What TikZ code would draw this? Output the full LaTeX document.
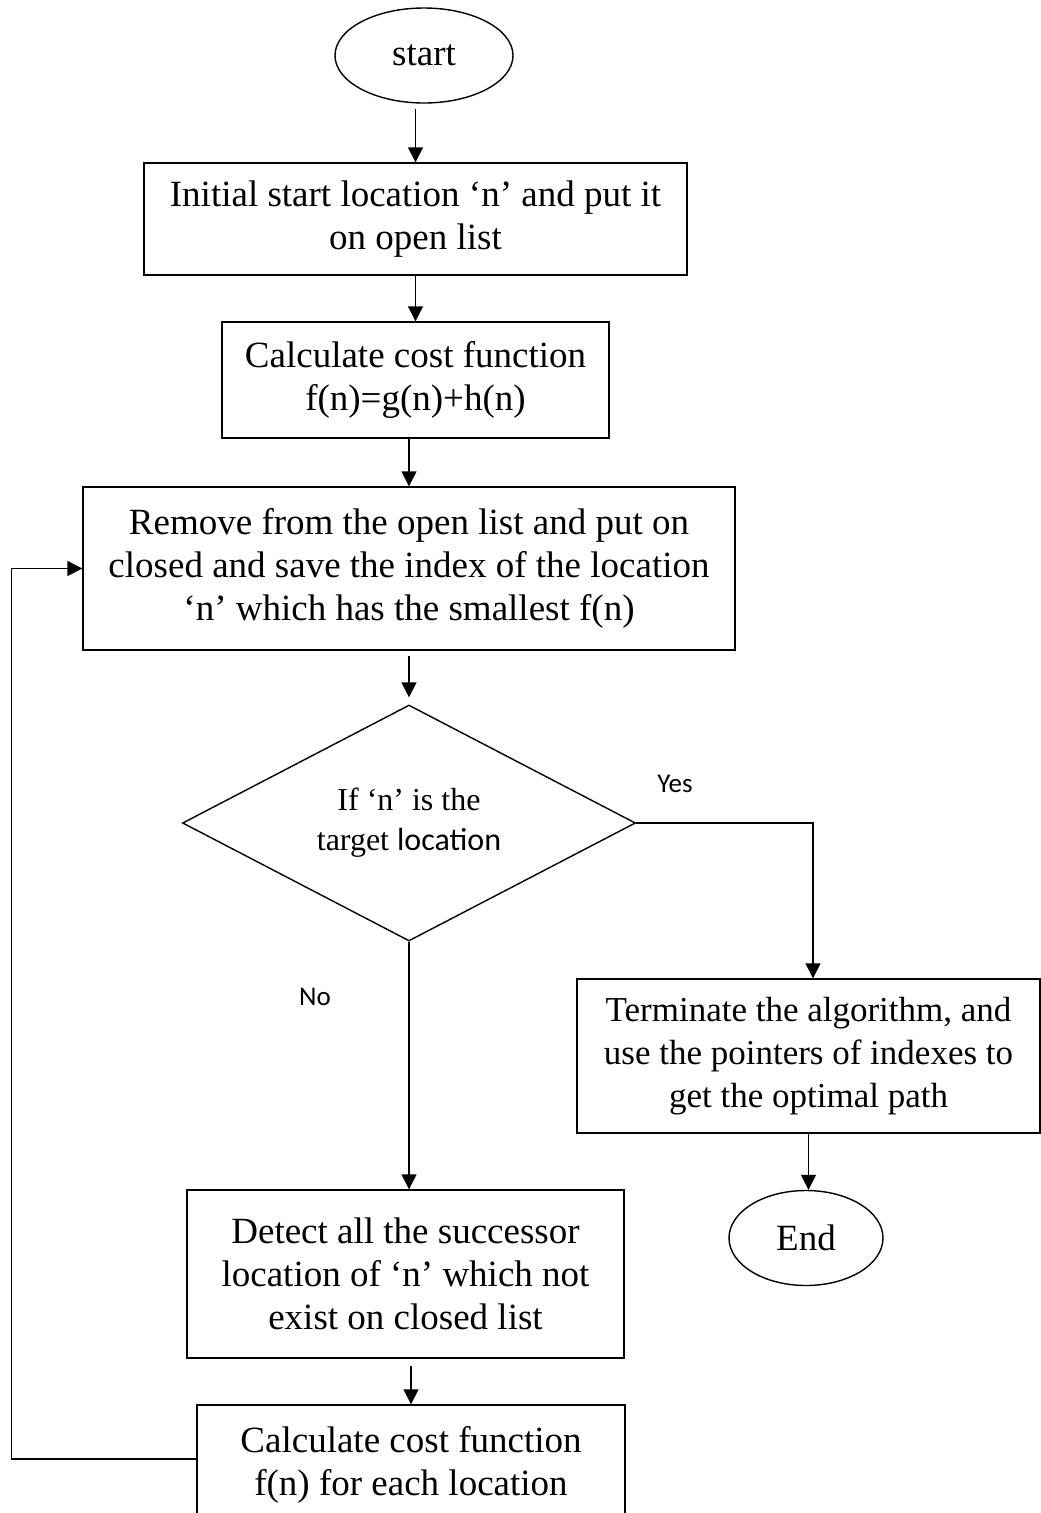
\documentclass[tikz,border=0pt]{standalone}
\usepackage{fontspec}
\setmainfont{Liberation Serif}
\newfontfamily\calib{Carlito}
\usetikzlibrary{shapes.geometric,arrows.meta,calc}
\begin{document}
\begin{tikzpicture}[x=1pt,y=-1pt,
  every node/.style={font=\fontsize{37}{43}\selectfont},
  box/.style={draw,line width=1.4pt,rectangle,inner sep=0pt,align=center},
  oval/.style={draw,line width=1.4pt,ellipse,inner sep=0pt},
  dec/.style={draw,line width=1.4pt,diamond,inner sep=0pt,aspect=1.92,align=center,font=\fontsize{32}{40}\selectfont},
  arr/.style={line width=1.4pt,-{Triangle[length=15pt,width=15pt]}},
  lab/.style={font=\calib\fontsize{27}{30}\selectfont}]
\useasboundingbox (0,0) rectangle (1041,1513);
\clip (0,0) rectangle (1041,1513);
\node[oval,minimum width=178pt,minimum height=95pt] (start) at (424,55.5) {start};
\node[box,minimum width=543pt,minimum height=112pt] (b1) at (415.5,219) {Initial start location ‘n’ and put it\\on open list};
\node[box,minimum width=387pt,minimum height=116pt] (b2) at (415.5,380) {Calculate cost function\\f(n)=g(n)+h(n)};
\node[box,minimum width=652pt,minimum height=163pt] (b3) at (409,568.5) {Remove from the open list and put on\\closed and save the index of the location\\‘n’ which has the smallest f(n)};
\node[dec,minimum width=453pt,minimum height=236pt] (dia) at (409,823) {If ‘n’ is the\\target {\calib location}};
\node[box,minimum width=463pt,minimum height=154pt,font=\fontsize{35}{43}\selectfont] (term) at (808.5,1056) {Terminate the algorithm, and\\use the pointers of indexes to\\get the optimal path};
\node[oval,minimum width=154pt,minimum height=95pt] (end) at (806,1238) {End};
\node[box,minimum width=437pt,minimum height=168pt] (det) at (405.5,1274) {Detect all the successor\\location of ‘n’ which not\\exist on closed list};
\node[box,minimum width=428pt,minimum height=120pt] (calc) at (411,1465) {Calculate cost function\\f(n) for each location};
\node[lab] (yes) at (675,784) {Yes};
\node[lab] (no) at (315,997) {No};
\draw[arr] ($(start.south -| b1.north)+(0,5)$) -- (b1.north);
\draw[arr] (b1.south) -- (b2.north);
\draw[arr] (b2.south -| b3.north) -- (b3.north);
\draw[arr] ($(b3.south)+(0,5)$) -- ($(dia.north)+(0,-7)$);
\draw[arr] (dia.east) -| ($(term.north)+(4.5,0)$);
\draw[arr] (term.south) -- (term.south |- end.north);
\draw[arr] (dia.south) -- (dia.south |- det.north);
\draw[arr] ($(det.south -| calc.north)+(0,7)$) -- (calc.north);
\draw[arr] ($(calc.west)+(0,-6)$) -- ++(-185,0) |- (b3.west);
\end{tikzpicture}
\end{document}
